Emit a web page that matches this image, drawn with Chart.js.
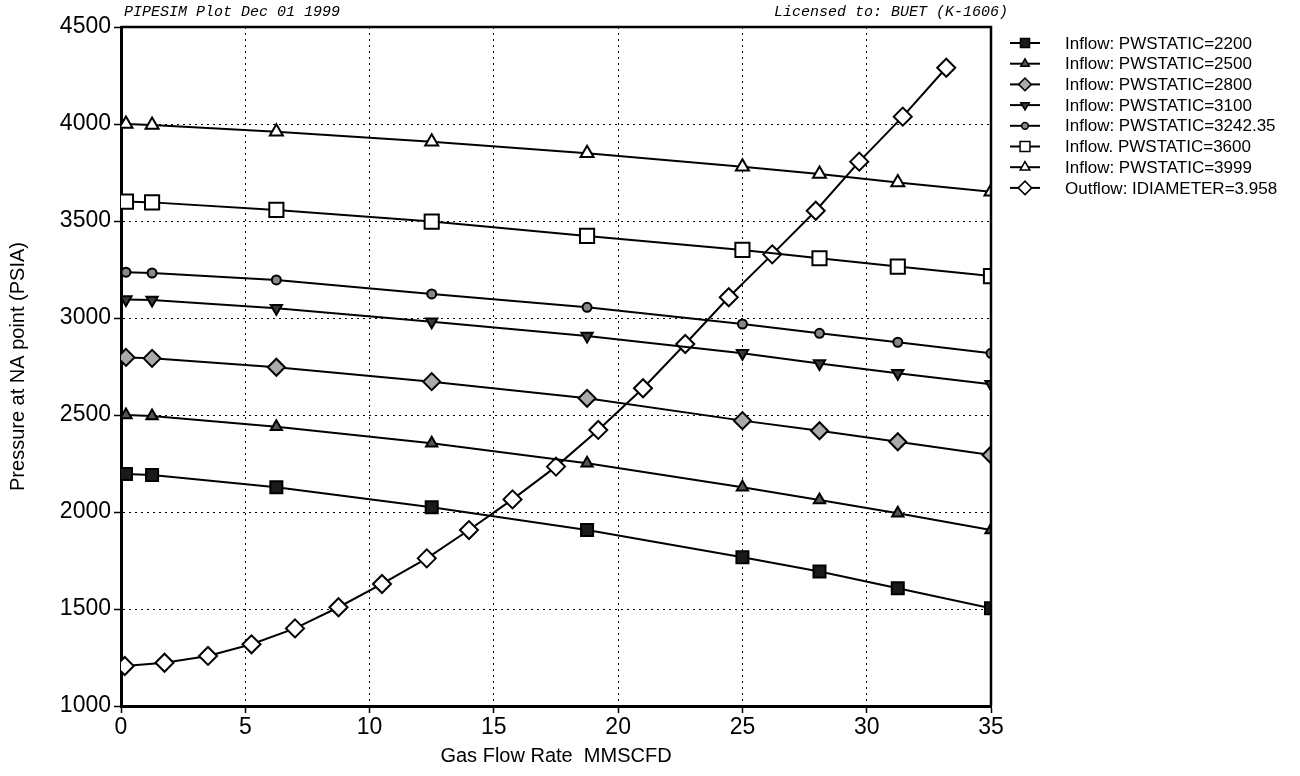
<!DOCTYPE html>
<html>
<head>
<meta charset="utf-8">
<style>
  body { margin: 0; background: #fff; }
  #wrap { width: 1300px; height: 776px; }
</style>
</head>
<body>
<div id="wrap"><canvas id="ipr" width="1300" height="776"></canvas></div>
<script src="https://cdn.jsdelivr.net/npm/chart.js@4.4.0/dist/chart.umd.min.js"></script>
<script>

// gas rates (MMSCFD) where the inflow curves were computed
var qIn = [0.2, 1.25, 6.25, 12.5, 18.75, 25, 28.1, 31.25, 35];

// inflow pressures (PSIA), one list per static pressure
var p2200 = [2196, 2191, 2127, 2024, 1907, 1767, 1693, 1607, 1504];
var p2500 = [2500, 2495, 2440, 2354, 2251, 2127, 2062, 1993, 1907];
var p2800 = [2797, 2792, 2746, 2672, 2586, 2471, 2419, 2362, 2294];
var p3100 = [3096, 3093, 3050, 2981, 2907, 2818, 2766, 2715, 2658];
var p3242 = [3236, 3232, 3196, 3124, 3055, 2969, 2921, 2875, 2818];
var p3600 = [3600, 3596, 3557, 3497, 3423, 3351, 3308, 3265, 3216];
var p3999 = [4000, 3995, 3960, 3909, 3849, 3780, 3742, 3699, 3651];

// outflow (tubing) curve
var qOut = [0.15, 1.75, 3.5, 5.25, 7.0, 8.75, 10.5, 12.3, 14.0, 15.75, 17.5, 19.2, 21.0, 22.7, 24.45, 26.2, 27.95, 29.7, 31.45, 33.2];
var pOut = [1206, 1223, 1258, 1318, 1400, 1509, 1629, 1761, 1907, 2065, 2234, 2423, 2638, 2866, 3107, 3328, 3553, 3806, 4038, 4290];

var seriesNames = [
  'Inflow: PWSTATIC=2200',
  'Inflow: PWSTATIC=2500',
  'Inflow: PWSTATIC=2800',
  'Inflow: PWSTATIC=3100',
  'Inflow: PWSTATIC=3242.35',
  'Inflow. PWSTATIC=3600',
  'Inflow: PWSTATIC=3999',
  'Outflow: IDIAMETER=3.958'
];

var xTicks = [0, 5, 10, 15, 20, 25, 30, 35];
var yTicks = [1000, 1500, 2000, 2500, 3000, 3500, 4000, 4500];

function pts(xs, ys) {
  return xs.map(function (x, i) { return { x: x, y: ys[i] }; });
}

// marker look per series
var marks = [
  { style: 'rect', r: 8.5, rot: 0, fill: '#1a1a1a' },
  { style: 'triangle', r: 6.5, rot: 0, fill: '#555' },
  { style: 'rectRot', r: 8.5, rot: 0, fill: '#aaa' },
  { style: 'triangle', r: 6.5, rot: 180, fill: '#3a3a3a' },
  { style: 'circle', r: 4.5, rot: 0, fill: '#888' },
  { style: 'rect', r: 10, rot: 0, fill: '#fff' },
  { style: 'triangle', r: 7.5, rot: 0, fill: '#fff' },
  { style: 'rectRot', r: 9, rot: 0, fill: '#fff' }
];

var allY = [p2200, p2500, p2800, p3100, p3242, p3600, p3999, pOut];

var datasets = allY.map(function (ys, i) {
  var m = marks[i];
  return {
    label: seriesNames[i],
    data: pts(i === 7 ? qOut : qIn, ys),
    borderColor: '#000',
    borderWidth: 2,
    tension: 0,
    fill: false,
    clip: 0,
    pointStyle: m.style,
    pointRadius: m.r,
    pointRotation: m.rot,
    pointBackgroundColor: m.fill,
    pointBorderColor: '#000',
    pointBorderWidth: 2
  };
});

Chart.defaults.font.family = 'Arial, "Liberation Sans", sans-serif';
Chart.defaults.color = '#000';

var tickFont = { size: 23 };

var frameAndText = {
  id: 'frameAndText',
  afterDraw: function (chart) {
    var ctx = chart.ctx, a = chart.chartArea;
    ctx.save();
    // top + right border of the plot box
    ctx.strokeStyle = '#000';
    ctx.lineWidth = 2.5;
    ctx.beginPath();
    ctx.moveTo(a.left, a.top);
    ctx.lineTo(a.right, a.top);
    ctx.lineTo(a.right, a.bottom);
    ctx.stroke();

    // header lines
    ctx.font = 'italic 15px "Liberation Mono", "Courier New", monospace';
    ctx.textBaseline = 'middle';
    ctx.fillStyle = '#000';
    ctx.textAlign = 'left';
    ctx.fillText('PIPESIM Plot Dec 01 1999', a.left + 3, 12);
    ctx.textAlign = 'right';
    ctx.fillText('Licensed to: BUET (K-1606)', a.right + 17, 12);

    // legend
    ctx.font = '17px Arial, "Liberation Sans", sans-serif';
    ctx.textAlign = 'left';
    chart.data.datasets.forEach(function (ds, i) {
      var y = 43 + i * 20.7;
      ctx.strokeStyle = '#000';
      ctx.lineWidth = 2;
      ctx.beginPath();
      ctx.moveTo(1010, y);
      ctx.lineTo(1040, y);
      ctx.stroke();
      ctx.fillStyle = ds.pointBackgroundColor;
      ctx.lineWidth = 1.5;
      Chart.helpers.drawPoint(ctx, {
        pointStyle: ds.pointStyle,
        rotation: ds.pointRotation,
        radius: Math.min(ds.pointRadius * 0.75, 7),
        borderWidth: 1.5
      }, 1025, y);
      ctx.fillStyle = '#000';
      ctx.fillText(ds.label, 1065, y + 1);
    });
    ctx.restore();
  }
};

new Chart(document.getElementById('ipr').getContext('2d'), {
  type: 'line',
  data: { datasets: datasets },
  options: {
    responsive: false,
    animation: false,
    devicePixelRatio: 1,
    layout: { padding: { top: 27, right: 309, left: 0, bottom: 0 } },
    plugins: {
      legend: { display: false },
      tooltip: { enabled: false }
    },
    scales: {
      x: {
        type: 'linear',
        min: 0,
        max: 35,
        afterBuildTicks: function (s) { s.ticks = xTicks.map(function (v) { return { value: v }; }); },
        afterFit: function (s) { s.height = 70; },
        ticks: { font: tickFont, padding: 1, maxRotation: 0, color: '#000', callback: function (v) { return String(v); } },
        grid: { color: '#000', lineWidth: 1, drawTicks: true, tickLength: 7, tickColor: '#000', tickWidth: 1.5 },
        border: { display: true, color: '#000', width: 3, dash: [2, 4] },
        title: { display: true, text: 'Gas Flow Rate  MMSCFD', font: { size: 20 }, color: '#000', padding: { top: 8, bottom: 8 } }
      },
      y: {
        min: 1000,
        max: 4500,
        afterBuildTicks: function (s) { s.ticks = yTicks.map(function (v) { return { value: v }; }); },
        afterFit: function (s) { s.width = 121; },
        ticks: { font: tickFont, padding: 3, color: '#000', callback: function (v) { return String(v); } },
        grid: { color: '#000', lineWidth: 1, drawTicks: true, tickLength: 7, tickColor: '#000', tickWidth: 1.5 },
        border: { display: true, color: '#000', width: 3, dash: [2, 4] },
        title: { display: true, text: 'Pressure at NA point (PSIA)', font: { size: 20 }, color: '#000', padding: { top: 6, bottom: 6 } }
      }
    }
  },
  plugins: [frameAndText]
});
</script>
</body>
</html>
